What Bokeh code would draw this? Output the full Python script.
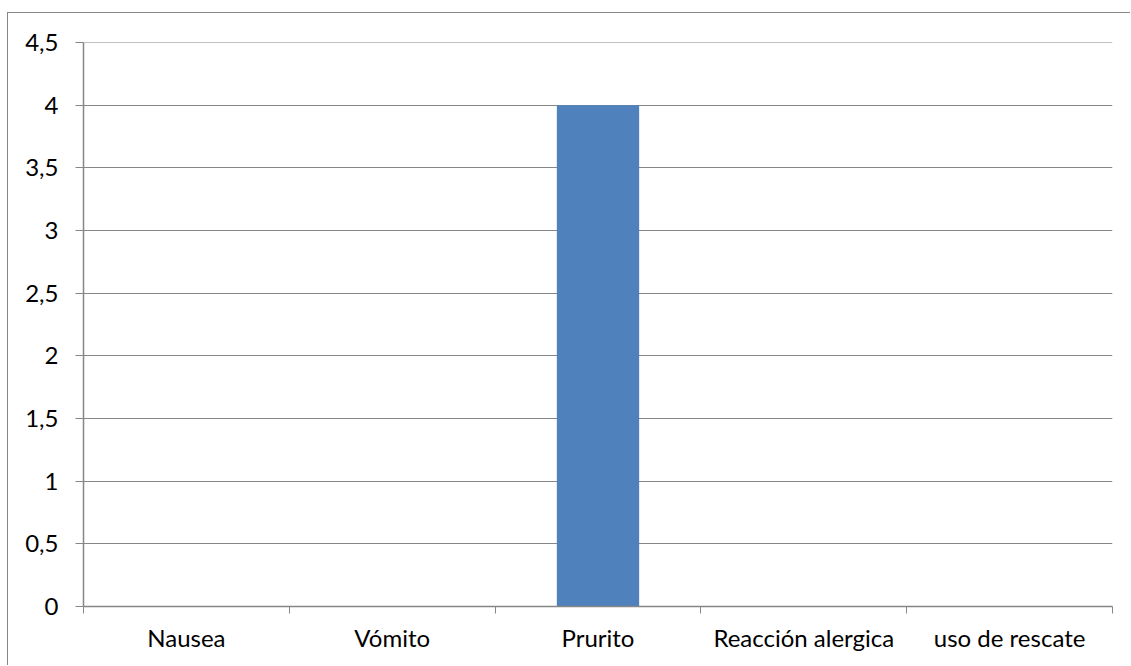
from bokeh.plotting import figure
from bokeh.models import Range1d, FixedTicker, ColumnDataSource, Span
from bokeh.embed import file_html
from bokeh.resources import INLINE

# Adverse events and their counts
categories = ["Nausea", "Vómito", "Prurito", "Reacción alergica", "uso de rescate"]
counts = [0, 0, 4, 0, 0]

# Value axis ticks (comma decimal separator)
y_ticks = [0, 0.5, 1, 1.5, 2, 2.5, 3, 3.5, 4, 4.5]
y_tick_labels = ["0", "0,5", "1", "1,5", "2", "2,5", "3", "3,5", "4", "4,5"]

GREY = "#868686"
FONT = "Lato"
FONT_SIZE = "24px"

# Chart area starts at (7, 12) on the page; its left and top edges carry a border
OFF_X, OFF_Y = 7, 12
W, H = 1131 - OFF_X - 1, 666 - OFF_Y - 1
p = figure(width=W, height=H, output_backend="svg", toolbar_location=None,
           x_range=Range1d(0, len(categories)), y_range=Range1d(0, 4.5),
           min_border_left=83 - OFF_X - 1, min_border_right=19,
           min_border_top=42 - OFF_Y - 1, min_border_bottom=H - (606 - OFF_Y - 1))
p.styles = {"margin-left": f"{OFF_X}px", "margin-top": f"{OFF_Y}px",
            "border-left": f"1px solid {GREY}", "border-top": f"1px solid {GREY}"}
p.outline_line_color = None
p.background_fill_color = "white"
p.border_fill_color = "white"

centers = [i + 0.5 for i in range(len(categories))]
src = ColumnDataSource(dict(x=centers, top=counts))
p.vbar(x="x", top="top", bottom=0, width=0.4, source=src,
       fill_color="#4F81BD", line_color=None)

# Category axis: labels at centres, tick marks at category boundaries
xa = p.xaxis[0]
xa.ticker = FixedTicker(ticks=centers, minor_ticks=list(range(len(categories) + 1)))
xa.major_label_overrides = {c: name for c, name in zip(centers, categories)}
xa.major_tick_out = 0
xa.major_tick_in = 0
xa.minor_tick_out = 7
xa.minor_tick_in = 0
xa.minor_tick_line_color = GREY
xa.minor_tick_line_width = 1
xa.axis_line_color = GREY
xa.axis_line_width = 1.5
xa.major_label_standoff = 9
xa.major_label_text_font = FONT
xa.major_label_text_font_size = FONT_SIZE
xa.major_label_text_color = "#000000"

ya = p.yaxis[0]
ya.ticker = FixedTicker(ticks=y_ticks)
ya.major_label_overrides = {t: s for t, s in zip(y_ticks, y_tick_labels)}
ya.major_tick_out = 8
ya.major_tick_in = 0
ya.minor_tick_out = 0
ya.minor_tick_in = 0
ya.major_tick_line_color = GREY
ya.axis_line_color = GREY
ya.axis_line_width = 1.5
ya.major_label_standoff = 17
ya.major_label_text_font = FONT
ya.major_label_text_font_size = FONT_SIZE
ya.major_label_text_color = "#000000"

p.xgrid.grid_line_color = None
p.ygrid.grid_line_color = GREY
p.ygrid.grid_line_width = 1

# Top gridline at the end of the value range
p.add_layout(Span(location=y_ticks[-1], dimension="width",
                  line_color=GREY, line_width=1))

open("out.html", "w").write(file_html(p, INLINE))
